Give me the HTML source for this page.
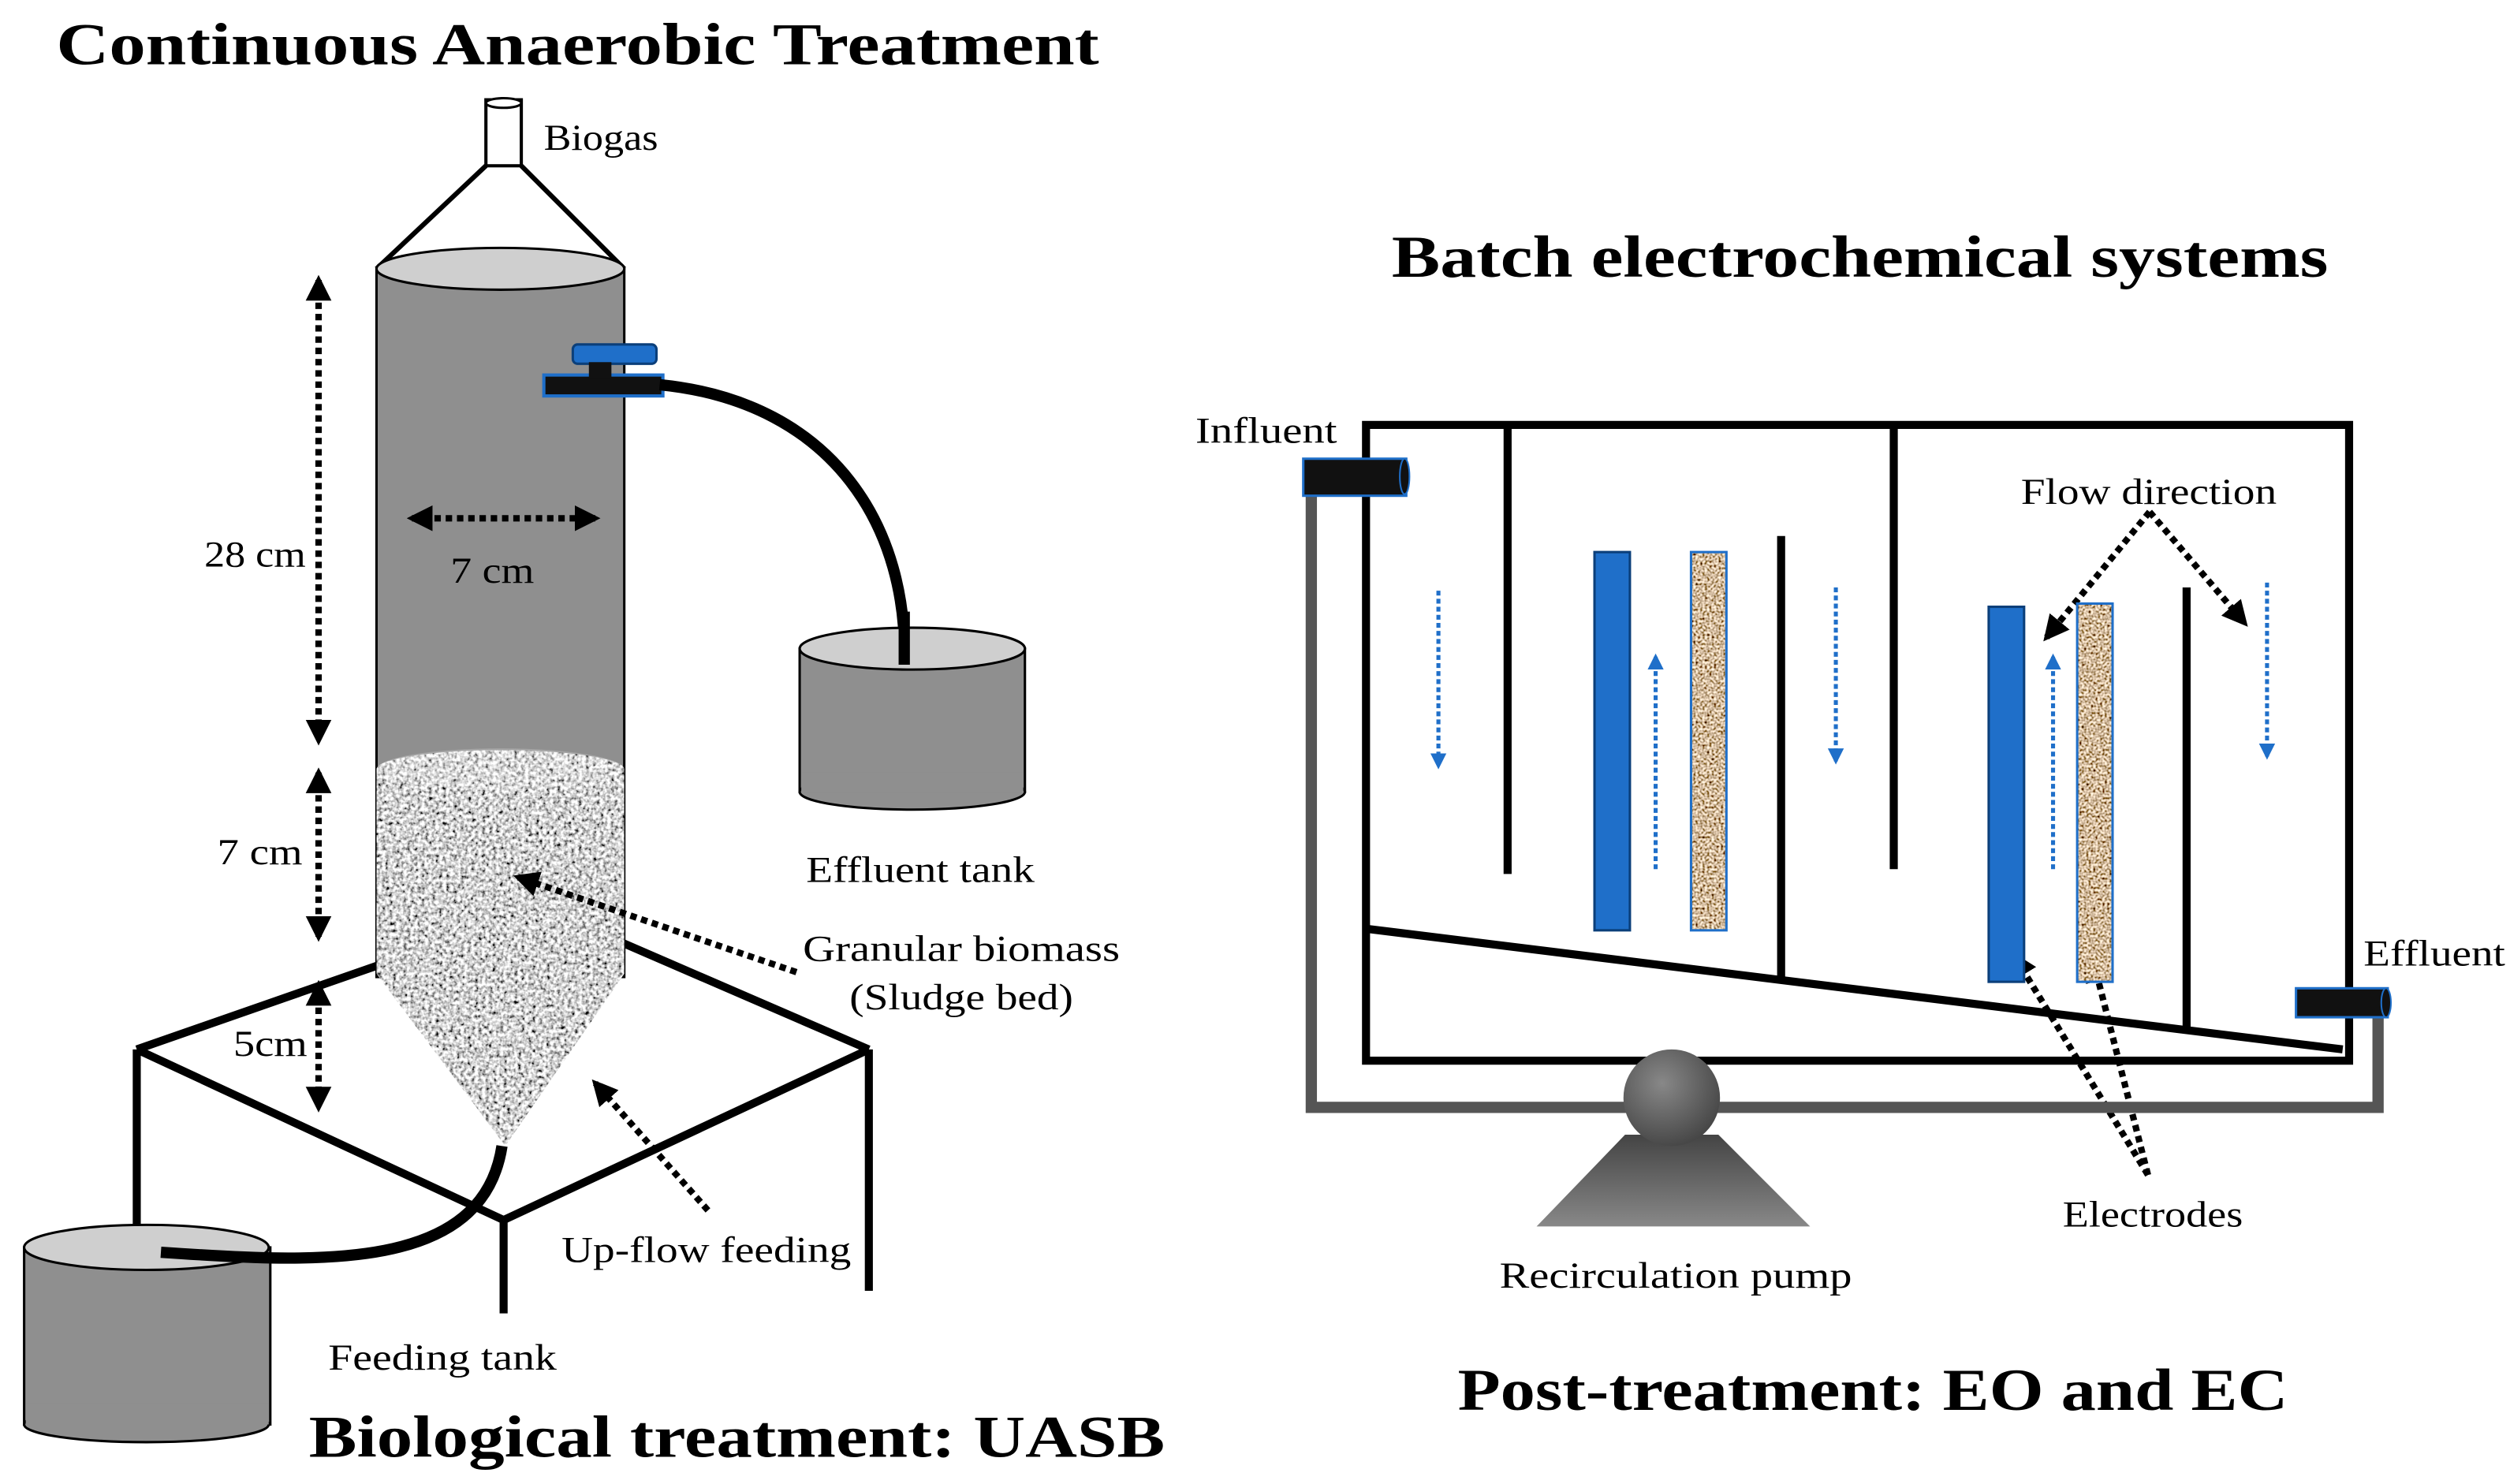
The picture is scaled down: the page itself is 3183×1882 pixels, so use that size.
<!DOCTYPE html>
<html><head><meta charset="utf-8"><style>html,body{margin:0;padding:0;background:#fff}svg{display:block}</style></head>
<body>
<svg width="3183" height="1882" viewBox="0 0 1560 922" preserveAspectRatio="none" xmlns="http://www.w3.org/2000/svg" font-family="Liberation Serif, serif">
<defs>
<filter id="gran" x="0" y="0" width="100%" height="100%">
<feTurbulence type="fractalNoise" baseFrequency="0.45" numOctaves="2" seed="7"/>
<feColorMatrix type="saturate" values="0"/>
<feComponentTransfer><feFuncR type="linear" slope="3" intercept="-0.85"/><feFuncG type="linear" slope="3" intercept="-0.85"/><feFuncB type="linear" slope="3" intercept="-0.85"/><feFuncA type="linear" slope="0" intercept="1"/></feComponentTransfer>
</filter>
<filter id="sand" x="0" y="0" width="100%" height="100%">
<feTurbulence type="fractalNoise" baseFrequency="0.7" numOctaves="1" seed="5"/>
<feColorMatrix type="matrix" values="2.2 0 0 0 -0.45  2.0 0 0 0 -0.5  1.8 0 0 0 -0.55  0 0 0 0 1"/>
</filter>
<clipPath id="bedclip"><path d="M234,478 A77,12 0 0 1 388,478 L388,605 L314,712 L234,605 Z"/></clipPath>
<clipPath id="e1"><rect x="1051" y="343" width="22" height="235"/></clipPath>
<clipPath id="e2"><rect x="1291" y="375" width="22" height="235"/></clipPath>
<marker id="ah" viewBox="0 0 10 10" refX="8" refY="5" markerWidth="4" markerHeight="4" orient="auto-start-reverse"><path d="M0,0 L10,5 L0,10 Z" fill="#000"/></marker>
<marker id="bh" viewBox="0 0 10 10" refX="8" refY="5" markerWidth="4" markerHeight="4" orient="auto"><path d="M0,0 L10,5 L0,10 Z" fill="#1f6fc9"/></marker>
<linearGradient id="pg" x1="0" y1="0" x2="0" y2="1"><stop offset="0" stop-color="#444"/><stop offset="1" stop-color="#888"/></linearGradient>
<radialGradient id="cg" cx="0.4" cy="0.35" r="0.7"><stop offset="0" stop-color="#888"/><stop offset="1" stop-color="#444"/></radialGradient>
</defs>

<g font-weight="bold" font-size="37" fill="#000" lengthAdjust="spacingAndGlyphs">
<text x="35" y="40" textLength="648" lengthAdjust="spacingAndGlyphs">Continuous Anaerobic Treatment</text>
<text x="865" y="172" textLength="582" lengthAdjust="spacingAndGlyphs">Batch electrochemical systems</text>
<text x="192" y="905" textLength="532" lengthAdjust="spacingAndGlyphs">Biological treatment: UASB</text>
<text x="906" y="876" textLength="516" lengthAdjust="spacingAndGlyphs">Post-treatment: EO and EC</text>
</g>

<g stroke="#000" stroke-width="5" fill="none">
<line x1="85" y1="652" x2="240" y2="598"/>
<line x1="385" y1="585" x2="540" y2="652"/>
<line x1="540" y1="652" x2="313" y2="758"/>
<line x1="313" y1="758" x2="85" y2="652"/>
<line x1="85" y1="652" x2="85" y2="768"/>
<line x1="540" y1="652" x2="540" y2="802"/>
<line x1="313" y1="758" x2="313" y2="816"/>
</g>

<rect x="302" y="62" width="22" height="41" fill="#fff" stroke="#000" stroke-width="2"/>
<ellipse cx="313" cy="64" rx="11" ry="3" fill="#fff" stroke="#000" stroke-width="1.5"/>
<line x1="302" y1="103" x2="234" y2="167" stroke="#000" stroke-width="3"/>
<line x1="324" y1="103" x2="388" y2="167" stroke="#000" stroke-width="3"/>

<rect x="234" y="167" width="154" height="440" fill="#8f8f8f" stroke="#000" stroke-width="1.5"/>
<ellipse cx="311" cy="167" rx="77" ry="13" fill="#cfcfcf" stroke="#000" stroke-width="1.5"/>
<g clip-path="url(#bedclip)"><rect x="230" y="460" width="162" height="260" filter="url(#gran)"/></g>
<ellipse cx="311" cy="478" rx="77" ry="13" fill="#fff" opacity="0.2"/>

<rect x="356" y="214" width="52" height="12" rx="3" fill="#1f6fc9" stroke="#0b3f7a" stroke-width="1.5"/>
<rect x="338" y="233" width="74" height="13" fill="#111" stroke="#1f6fc9" stroke-width="2"/>
<rect x="366" y="225" width="14" height="10" fill="#111"/>

<path d="M410,239 C520,250 565,330 562,413" fill="none" stroke="#000" stroke-width="7"/>
<rect x="497" y="403" width="140" height="89" fill="#8f8f8f" stroke="#000" stroke-width="1.5"/>
<ellipse cx="567" cy="492" rx="70" ry="11" fill="#8f8f8f" stroke="#000" stroke-width="1.5"/>
<rect x="498" y="480" width="138" height="12" fill="#8f8f8f"/>
<ellipse cx="567" cy="403" rx="70" ry="13" fill="#cfcfcf" stroke="#000" stroke-width="1.5"/>
<path d="M562,380 L562,413" stroke="#000" stroke-width="7"/>

<rect x="15" y="775" width="153" height="110" fill="#8f8f8f" stroke="#000" stroke-width="1.5"/>
<ellipse cx="91" cy="885" rx="76" ry="11" fill="#8f8f8f" stroke="#000" stroke-width="1.5"/>
<rect x="16" y="872" width="151" height="13" fill="#8f8f8f"/>
<ellipse cx="91" cy="775" rx="76" ry="14" fill="#cfcfcf" stroke="#000" stroke-width="1.5"/>
<path d="M100,778 C200,785 300,790 312,712" fill="none" stroke="#000" stroke-width="7"/>

<g stroke="#000" stroke-width="4" stroke-dasharray="4,3" fill="none" marker-start="url(#ah)" marker-end="url(#ah)">
<line x1="198" y1="174" x2="198" y2="460"/>
<line x1="198" y1="480" x2="198" y2="582"/>
<line x1="198" y1="612" x2="198" y2="688"/>
<line x1="256" y1="322" x2="370" y2="322"/>
</g>
<g stroke="#000" stroke-width="4" stroke-dasharray="4,3" fill="none" marker-end="url(#ah)">
<line x1="495" y1="604" x2="322" y2="545"/>
<line x1="440" y1="752" x2="370" y2="673"/>
<line x1="1336" y1="318" x2="1272" y2="396"/>
<line x1="1336" y1="318" x2="1395" y2="387"/>
<line x1="1335" y1="730" x2="1252" y2="594"/>
<line x1="1335" y1="730" x2="1301" y2="597"/>
</g>

<g font-size="23" fill="#000">
<text x="338" y="93" textLength="71" lengthAdjust="spacingAndGlyphs">Biogas</text>
<text x="127" y="352" textLength="63" lengthAdjust="spacingAndGlyphs">28 cm</text>
<text x="280" y="362" textLength="52" lengthAdjust="spacingAndGlyphs">7 cm</text>
<text x="135" y="537" textLength="53" lengthAdjust="spacingAndGlyphs">7 cm</text>
<text x="145" y="656" textLength="46" lengthAdjust="spacingAndGlyphs">5cm</text>
<text x="501" y="548" textLength="142" lengthAdjust="spacingAndGlyphs">Effluent tank</text>
<text x="499" y="597" textLength="197" lengthAdjust="spacingAndGlyphs">Granular biomass</text>
<text x="528" y="627" textLength="139" lengthAdjust="spacingAndGlyphs">(Sludge bed)</text>
<text x="349" y="784" textLength="180" lengthAdjust="spacingAndGlyphs">Up-flow feeding</text>
<text x="204" y="851" textLength="142" lengthAdjust="spacingAndGlyphs">Feeding tank</text>
<text x="743" y="275" textLength="88" lengthAdjust="spacingAndGlyphs">Influent</text>
<text x="1256" y="313" textLength="159" lengthAdjust="spacingAndGlyphs">Flow direction</text>
<text x="1469" y="600" textLength="88" lengthAdjust="spacingAndGlyphs">Effluent</text>
<text x="1282" y="762" textLength="112" lengthAdjust="spacingAndGlyphs">Electrodes</text>
<text x="932" y="800" textLength="219" lengthAdjust="spacingAndGlyphs">Recirculation pump</text>
</g>

<path d="M815,300 L815,688 L1478,688 L1478,625" fill="none" stroke="#555" stroke-width="7"/>
<rect x="849" y="264" width="611" height="395" fill="none" stroke="#000" stroke-width="5"/>
<g stroke="#000" stroke-width="5">
<line x1="937" y1="264" x2="937" y2="543"/>
<line x1="1177" y1="264" x2="1177" y2="540"/>
<line x1="1107" y1="333" x2="1107" y2="608"/>
<line x1="1359" y1="365" x2="1359" y2="640"/>
<line x1="849" y1="577" x2="1456" y2="652"/>
</g>
<rect x="810" y="285" width="64" height="23" fill="#111" stroke="#1f6fc9" stroke-width="1.5"/>
<ellipse cx="873" cy="296" rx="3" ry="11" fill="#111" stroke="#1f6fc9" stroke-width="1"/>
<rect x="1427" y="614" width="57" height="18" fill="#111" stroke="#1f6fc9" stroke-width="1.5"/>
<ellipse cx="1483" cy="623" rx="3" ry="9" fill="#111" stroke="#1f6fc9" stroke-width="1"/>

<polygon points="955,762 1125,762 1068,705 1010,705" fill="url(#pg)"/>
<circle cx="1039" cy="682" r="30" fill="url(#cg)"/>

<rect x="991" y="343" width="22" height="235" fill="#1f6fc9" stroke="#0b3f7a" stroke-width="1.5"/>
<g clip-path="url(#e1)"><rect x="1051" y="343" width="22" height="235" filter="url(#sand)"/></g>
<rect x="1051" y="343" width="22" height="235" fill="none" stroke="#1f6fc9" stroke-width="1.5"/>
<rect x="1236" y="377" width="22" height="233" fill="#1f6fc9" stroke="#0b3f7a" stroke-width="1.5"/>
<g clip-path="url(#e2)"><rect x="1291" y="375" width="22" height="235" filter="url(#sand)"/></g>
<rect x="1291" y="375" width="22" height="235" fill="none" stroke="#1f6fc9" stroke-width="1.5"/>

<g stroke="#1f6fc9" stroke-width="2.5" stroke-dasharray="3,2" fill="none" marker-end="url(#bh)">
<line x1="894" y1="367" x2="894" y2="476"/>
<line x1="1029" y1="540" x2="1029" y2="408"/>
<line x1="1141" y1="365" x2="1141" y2="473"/>
<line x1="1276" y1="540" x2="1276" y2="408"/>
<line x1="1409" y1="362" x2="1409" y2="470"/>
</g>
</svg>
</body></html>
